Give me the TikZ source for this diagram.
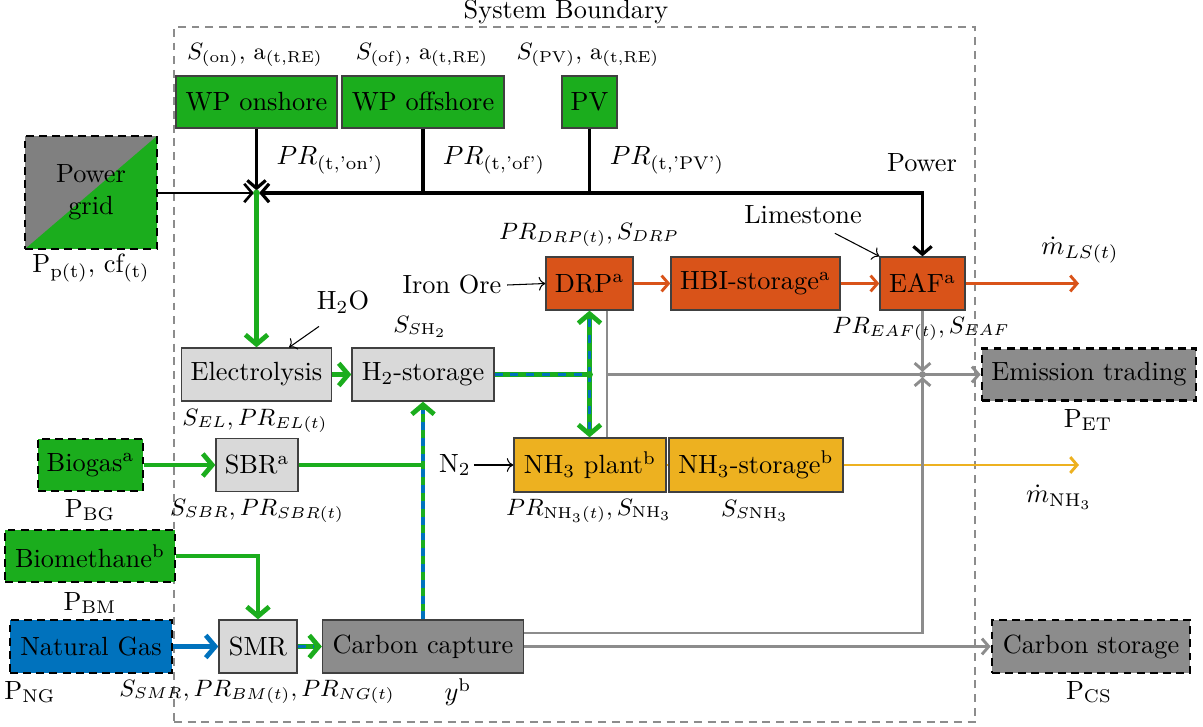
\documentclass[tikz,border=0pt]{standalone}
\usepackage{amsmath}
\usetikzlibrary{arrows.meta,calc}
\definecolor{cgreen}{RGB}{27,173,29}
\definecolor{corange}{RGB}{217,83,25}
\definecolor{cyellow}{RGB}{237,177,32}
\definecolor{cblue}{RGB}{0,114,189}
\definecolor{cgray}{RGB}{140,140,140}
\definecolor{clgray}{RGB}{217,217,217}
\definecolor{cgrid}{RGB}{128,128,128}
\newcommand{\U}{0.38pt}
\tikzset{
  box/.style={draw=black!75, line width=0.5pt, inner sep=0pt, anchor=center},
  ext/.style={draw=black, line width=1pt, dash pattern=on 3pt off 2pt, inner sep=0pt},
  bnd/.style={draw=cgray, line width=0.9pt, dash pattern=on 3pt off 2.2pt},
  gtip/.style={-{Straight Barb[length=3.6pt,width=8.5pt]}},
  gl/.style={cgreen, line width=1.8pt},
  gA/.style={gl, gtip},
  bd/.style={cblue, line width=1.5pt, dash pattern=on 3pt off 3pt},
  bA/.style={cblue, line width=1.8pt, gtip},
  pw/.style={black, line width=1.2pt},
  ptip/.style={-{Straight Barb[length=3pt,width=7pt]}},
  oA/.style={corange, line width=1.1pt, -{Straight Barb[length=2.6pt,width=6pt]}},
  yA/.style={cyellow, line width=1.1pt, -{Straight Barb[length=2.6pt,width=6pt]}},
  grl/.style={cgray, line width=1.1pt},
  grA/.style={grl, -{Straight Barb[length=2.6pt,width=6pt]}},
  thinA/.style={black, line width=0.4pt, ->},
  lbl/.style={inner sep=1pt},
  mlbl/.style={inner sep=1pt, font=\small},
}
\begin{document}
\begin{tikzpicture}[x=\U,y=-\U]
\useasboundingbox (0,0) rectangle (1203,727);
% system boundary
\node[bnd, minimum width=801*\U, minimum height=695*\U] (sb) at (574.5,374.5) {};
\node[lbl] (sbt) at (566,12) {System Boundary};

% renewable sources
\node[box, fill=cgreen, minimum width=161*\U, minimum height=52*\U] (WPon) at (256.5,102) {WP onshore};
\node[box, fill=cgreen, minimum width=162*\U, minimum height=52*\U] (WPoff) at (423,102) {WP offshore};
\node[box, fill=cgreen, minimum width=55*\U, minimum height=52*\U] (PV) at (589.5,102) {PV};
\node[mlbl] (lWPon) at (255,55) {$S_{(\mathrm{on})}$, a$_{(\mathrm{t,RE})}$};
\node[mlbl] (lWPoff) at (422,55) {$S_{(\mathrm{of})}$, a$_{(\mathrm{t,RE})}$};
\node[mlbl] (lPV) at (588,55) {$S_{(\mathrm{PV})}$, a$_{(\mathrm{t,RE})}$};
\node[lbl] (lpon) at (330,160) {$PR_{(\mathrm{t},\text{'on'})}$};
\node[lbl] (lpof) at (494,160) {$PR_{(\mathrm{t},\text{'of'})}$};
\node[lbl] (lppv) at (667,160) {$PR_{(\mathrm{t},\text{'PV'})}$};
\node[lbl] (lpow) at (922,163) {Power};

% power grid
\fill[cgrid] (25,136) rectangle (157,249);
\fill[cgreen] (25,249) -- (157,136) -- (157,249) -- cycle;
\node[ext, minimum width=132*\U, minimum height=113*\U, align=center] (grid) at (91,192.5) {Power\\grid};
\node[lbl] (lgrid) at (91,268) {P$_{\mathrm{p(t)}}$, cf$_{(\mathrm{t})}$};

% hydrogen
\node[box, fill=clgray, minimum width=150*\U, minimum height=53*\U] (Elec) at (256.5,374.5) {Electrolysis};
\node[box, fill=clgray, minimum width=142*\U, minimum height=53*\U] (H2s) at (423,374.5) {H$_2$-storage};
\node[mlbl] (lEl) at (255,421) {$S_{EL}, PR_{EL(t)}$};
\node[mlbl] (lH2s) at (420,327) {$S_{S\mathrm{H_2}}$};
\node[lbl] (h2o) at (343,302) {H$_2$O};

% steel
\node[box, fill=corange, minimum width=87*\U, minimum height=53*\U] (DRP) at (589.5,283.5) {DRP$^{\mathrm{a}}$};
\node[box, fill=corange, minimum width=169*\U, minimum height=53*\U] (HBI) at (755.5,283.5) {HBI-storage$^{\mathrm{a}}$};
\node[box, fill=corange, minimum width=85*\U, minimum height=53*\U] (EAF) at (922.5,283.5) {EAF$^{\mathrm{a}}$};
\node[mlbl] (lDRP) at (589,235) {$PR_{DRP(t)}, S_{DRP}$};
\node[mlbl] (lEAF) at (921,329) {$PR_{EAF(t)}, S_{EAF}$};
\node[lbl] (io) at (452,285) {Iron Ore};
\node[lbl] (ls) at (803,215) {Limestone};
\node[lbl] (lmls) at (1080,250) {$\dot{m}_{LS(t)}$};
\coordinate (lsout) at (1079,283.5);

% emission trading
\node[box, ext, fill=cgray, minimum width=214*\U, minimum height=52*\U] (ET) at (1089,374.5) {Emission trading};
\node[lbl] (lET) at (1088,420) {P$_{\mathrm{ET}}$};

% ammonia
\node[box, fill=cyellow, minimum width=152*\U, minimum height=54*\U] (NH3p) at (590,465) {NH$_3$ plant$^{\mathrm{b}}$};
\node[box, fill=cyellow, minimum width=174*\U, minimum height=54*\U] (NH3s) at (756,465) {NH$_3$-storage$^{\mathrm{b}}$};
\node[mlbl] (lNH3p) at (589,511) {$PR_{\mathrm{NH_3}(t)}, S_{\mathrm{NH_3}}$};
\node[mlbl] (lNH3s) at (755,511) {$S_{S\mathrm{NH_3}}$};
\node[lbl] (n2) at (455,465) {N$_2$};
\node[lbl] (lmnh) at (1059,497) {$\dot{m}_{\mathrm{NH_3}}$};
\coordinate (nhout) at (1079,465);

% biogas / SBR
\node[box, ext, fill=cgreen, minimum width=105*\U, minimum height=52*\U] (BG) at (90.5,465) {Biogas$^{\mathrm{a}}$};
\node[box, fill=clgray, minimum width=82*\U, minimum height=53*\U] (SBR) at (257,465) {SBR$^{\mathrm{a}}$};
\node[lbl] (lBG) at (90,510) {P$_{\mathrm{BG}}$};
\node[mlbl] (lSBR) at (257,511) {$S_{SBR}, PR_{SBR(t)}$};

% biomethane, natural gas, SMR, carbon capture
\node[box, ext, fill=cgreen, minimum width=170*\U, minimum height=52*\U] (BM) at (90,556) {Biomethane$^{\mathrm{b}}$};
\node[lbl] (lBM) at (90,603) {P$_{\mathrm{BM}}$};
\node[box, ext, fill=cblue, minimum width=162*\U, minimum height=53*\U] (NG) at (91,646.5) {Natural Gas};
\node[lbl] (lNG) at (30,692) {P$_{\mathrm{NG}}$};
\node[box, fill=clgray, minimum width=78*\U, minimum height=53*\U] (SMR) at (258,646.5) {SMR};
\node[box, fill=cgray, minimum width=201*\U, minimum height=53*\U] (CC) at (423,646.5) {Carbon capture};
\node[mlbl] (lSMR) at (257,692) {$S_{SMR}, PR_{BM(t)}, PR_{NG(t)}$};
\node[lbl] (lCC) at (458,692) {$y^{\mathrm{b}}$};
\node[box, ext, fill=cgray, minimum width=198*\U, minimum height=53*\U] (CS) at (1091,646.5) {Carbon storage};
\node[lbl] (lCS) at (1089,692) {P$_{\mathrm{CS}}$};

% ---- power connections
\coordinate (jn) at (256.5,193);
\draw[pw, ptip, shorten >=1pt] (WPon.south) -- (jn);
\draw[pw] (WPoff.south) -- (WPoff.south |- jn);
\draw[pw] (PV.south) -- (PV.south |- jn);
\draw[pw, {Straight Barb[length=3pt,width=7pt]}-{Straight Barb[length=3pt,width=7pt]}, shorten <=1pt] (jn) -- (jn -| EAF.north) -- (EAF.north);
\draw[pw, line width=1pt, ptip, shorten >=1pt] (grid.east |- jn) -- (jn);
\draw[gA] (jn) -- (Elec.north);
\fill[cgreen] (jn) circle (1.3pt);

% hydrogen flows
\draw[gA] (Elec.east) -- (H2s.west);
\draw[thinA] ([shift={(-24,10)}]h2o.south) -- ([shift={(-43,0)}]Elec.north east);
\coordinate (hj) at (DRP.south |- H2s.east);
\draw[gl] (H2s.east) -- (hj);
\draw[bd] (H2s.east) -- (hj);
\draw[gA] (hj) -- (DRP.south);
\draw[bd, shorten >=3pt] (hj) -- (DRP.south);
\draw[gA] (hj) -- (hj |- NH3p.north);
\draw[bd, shorten >=3pt] (hj) -- (hj |- NH3p.north);
\fill[cgreen] (hj) circle (1.3pt);

\draw[gl] (SBR.east) -- (SBR.east -| CC.north);
\draw[gA] (CC.north) -- (H2s.south);
\draw[bd, shorten >=3pt] (CC.north) -- (H2s.south);
\draw[gA] (BG.east) -- (SBR.west);
\draw[gA] (BM.east) -| (SMR.north);
\draw[bA] (NG.east) -- (SMR.west);
\draw[gA] (SMR.east) -- (CC.west);
\draw[bd, shorten >=3pt] (SMR.east) -- (CC.west);

% steel flows
\draw[thinA] ([xshift=1pt]io.east) -- (DRP.west);
\draw[oA] (DRP.east) -- (HBI.west);
\draw[oA] (HBI.east) -- (EAF.west);
\draw[oA] (EAF.east) -- (lsout);
\draw[thinA] ([shift={(-30,6)}]ls.south east) -- (EAF.north west);

% ammonia flows
\draw[thinA] (n2.east) -- (NH3p.west);
\draw[cyellow, line width=1.1pt] (NH3p.east) -- (NH3s.west);
\draw[yA] (NH3s.east) -- (nhout);

% emissions
\coordinate (gv) at ([xshift=17.5*\U]DRP.south);
\coordinate (gj) at (EAF.south |- hj);
\draw[grl] (gv) -- (gv |- NH3p.north);
\draw[grA] (gv |- hj) -- (ET.west);
\draw[grA, shorten >=1pt] (EAF.south) -- (gj);
\draw[grA, shorten >=1pt] ([yshift=13.5*\U]CC.east) -| (gj);
\fill[cgray] (gj) circle (1.3pt);
\draw[grA] (CC.east) -- (CS.west);
\end{tikzpicture}
\end{document}
